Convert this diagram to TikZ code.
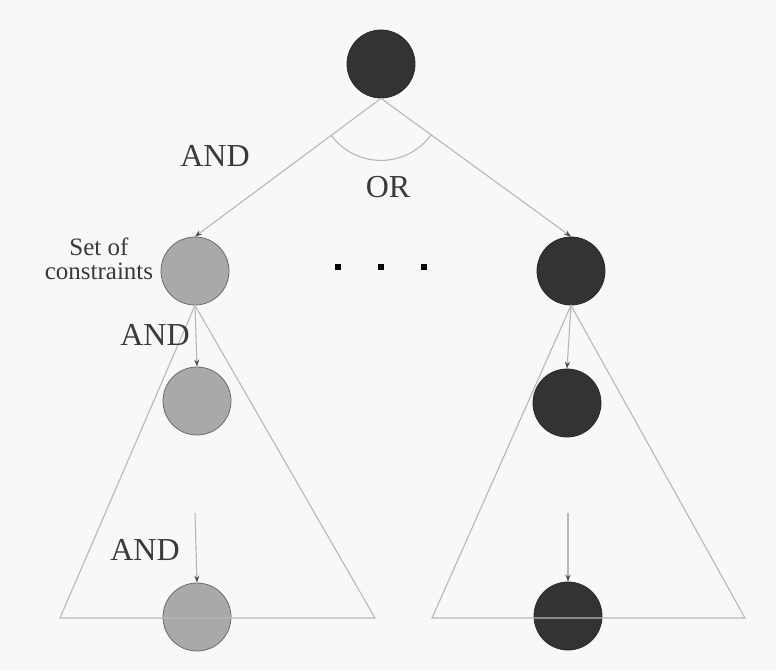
\documentclass[tikz,border=0pt]{standalone}
\usepackage{fontspec}
\setmainfont{Liberation Serif}
\usetikzlibrary{arrows.meta}
\definecolor{bgc}{HTML}{F8F8F8}
\definecolor{darknode}{HTML}{333333}
\definecolor{lightnode}{HTML}{A9A9A9}
\definecolor{linec}{HTML}{B8B8B8}
\definecolor{textc}{HTML}{3A3A3A}
\tikzset{
  darkball/.style={circle, minimum size=68pt, inner sep=0pt, fill=darknode, draw=darknode!80!black, line width=0.8pt},
  greyball/.style={circle, minimum size=68pt, inner sep=0pt, fill=lightnode, draw=gray!85!black, line width=0.8pt},
  edge/.style={draw=linec, line width=1.1pt, -{Stealth[length=7pt,width=5pt,color=gray!60!black]}},
  cone/.style={draw=linec, line width=1.1pt, line join=miter},
  lbl/.style={text=textc, font=\fontsize{32}{34}\selectfont, inner sep=0pt},
  small/.style={text=textc, font=\fontsize{25}{27}\selectfont, inner sep=0pt, align=center},
  dot/.style={fill=black, minimum size=6pt, inner sep=0pt, rectangle}
}
\begin{document}
\begin{tikzpicture}[x=1pt,y=1pt]
  % canvas
  \fill[bgc] (0,0) rectangle (776,670);
  \useasboundingbox (0,0) rectangle (776,670);

  % tree nodes
  \node[darkball] (top) at (381,606) {};
  \node[greyball] (l1) at (195,399) {};
  \node[darkball] (r1) at (571,399) {};
  \node[greyball] (l2) at (197,269) {};
  \node[darkball] (r2) at (567,267) {};
  \node[greyball] (l3) at (197,53) {};
  \node[darkball] (r3) at (568,54) {};

  % subtree cones
  \coordinate (lbl-base) at (60,52);
  \coordinate (lbr-base) at (375,52);
  \coordinate (rbl-base) at (432,52);
  \coordinate (rbr-base) at (745,52);
  \draw[cone] (l1.south) -- (lbl-base) -- (lbr-base) -- cycle;
  \draw[cone] (r1.south) -- (rbl-base) -- (rbr-base) -- cycle;

  % edges
  \draw[edge] (top.south) -- (l1.north);
  \draw[edge] (top.south) -- (r1.north);
  \draw[edge] (l1.south) -- (l2.north);
  \draw[edge] (r1.south) -- (r2.north);
  \coordinate (lgap) at (195,157);
  \coordinate (rgap) at (568,157);
  \draw[edge] (lgap) -- (l3.north);
  \draw[edge] (rgap) -- (r3.north);

  % OR arc between the two branches
  \draw[draw=linec, line width=1.1pt] (top.south) ++(217:62) arc (217:324:62);

  % ellipsis between subtrees
  \node[dot] (d1) at (338,403) {};
  \node[dot] (d2) at (381,403) {};
  \node[dot] (d3) at (424,403) {};

  % labels
  \node[lbl] (and1) at (215,514) {AND};
  \node[lbl] (or) at (388,483) {OR};
  \node[lbl] (and2) at (155,335) {AND};
  \node[lbl] (and3) at (145,120) {AND};
  \node[small] (cons) at (99,411) {Set of\\[-3pt]constraints};
\end{tikzpicture}
\end{document}
